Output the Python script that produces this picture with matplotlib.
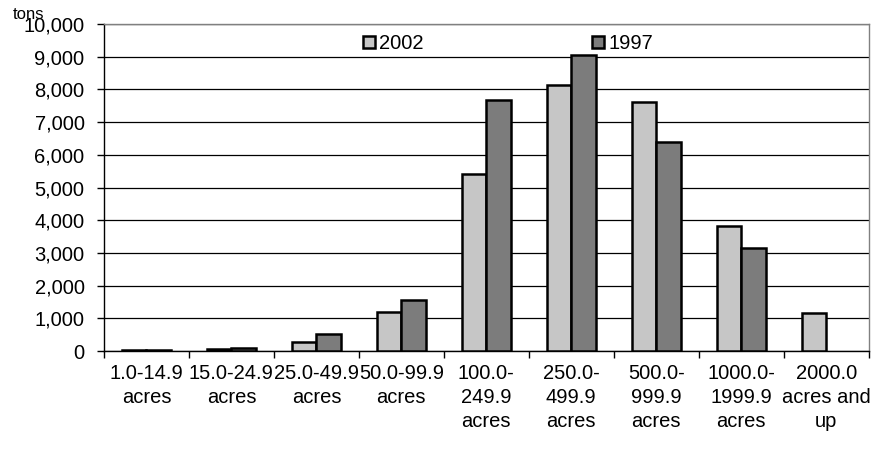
import matplotlib.pyplot as plt
import numpy as np

plt.rcParams['font.family'] = ['Liberation Sans', 'DejaVu Sans']

categories = ['1.0-14.9\nacres', '15.0-24.9\nacres', '25.0-49.9\nacres', '50.0-99.9\nacres',
              '100.0-\n249.9\nacres', '250.0-\n499.9\nacres', '500.0-\n999.9\nacres',
              '1000.0-\n1999.9\nacres', '2000.0\nacres and\nup']
tons_2002 = [20, 60, 280, 1200, 5430, 8130, 7620, 3820, 1180]
tons_1997 = [35, 110, 530, 1560, 7680, 9050, 6400, 3140, np.nan]  # no 1997 value for the last class

fig = plt.figure(figsize=(8.81, 4.49), dpi=100)
ax = fig.add_axes([0.118, 0.218, 0.868, 0.7285])

x = np.arange(len(categories))
w = 0.29
ax.bar(x - w / 2, tons_2002, w, color='#c6c6c6', edgecolor='black', linewidth=1.8, label='2002', zorder=3)
ax.bar(x + w / 2, tons_1997, w, color='#7c7c7c', edgecolor='black', linewidth=1.8, label='1997', zorder=3)

ax.set_xlim(-0.5, len(categories) - 0.5)
ax.set_ylim(0, 10000)
ax.set_yticks(np.arange(0, 10001, 1000))
ax.set_yticklabels([f'{v:,}' for v in range(0, 10001, 1000)], fontsize=14.5)
ax.yaxis.grid(True, color='black', linewidth=0.9, zorder=0)

ax.set_xticks(x)
ax.set_xticklabels(categories, fontsize=14.5, linespacing=1.33)
ax.tick_params(axis='x', length=0, pad=9)
ax.set_xticks(np.arange(-0.5, len(categories), 1), minor=True)
ax.tick_params(axis='x', which='minor', length=5, width=1, direction='out')
ax.tick_params(axis='y', length=5, width=1, direction='out', pad=9)

for side in ['top', 'right']:
    ax.spines[side].set_color('#808080')
    ax.spines[side].set_linewidth(1)
ax.spines['left'].set_linewidth(1)
ax.spines['bottom'].set_linewidth(1)

ax.legend(loc='upper left', bbox_to_anchor=(0.325, 1.0), ncol=2, frameon=False, fontsize=14.5,
          handlelength=0.6, handleheight=0.6, handletextpad=0.2, columnspacing=8.4, borderaxespad=0.1)

fig.text(0.014, 0.967, 'tons', fontsize=12, ha='left', va='center')

fig.savefig('out.png', dpi=100)
